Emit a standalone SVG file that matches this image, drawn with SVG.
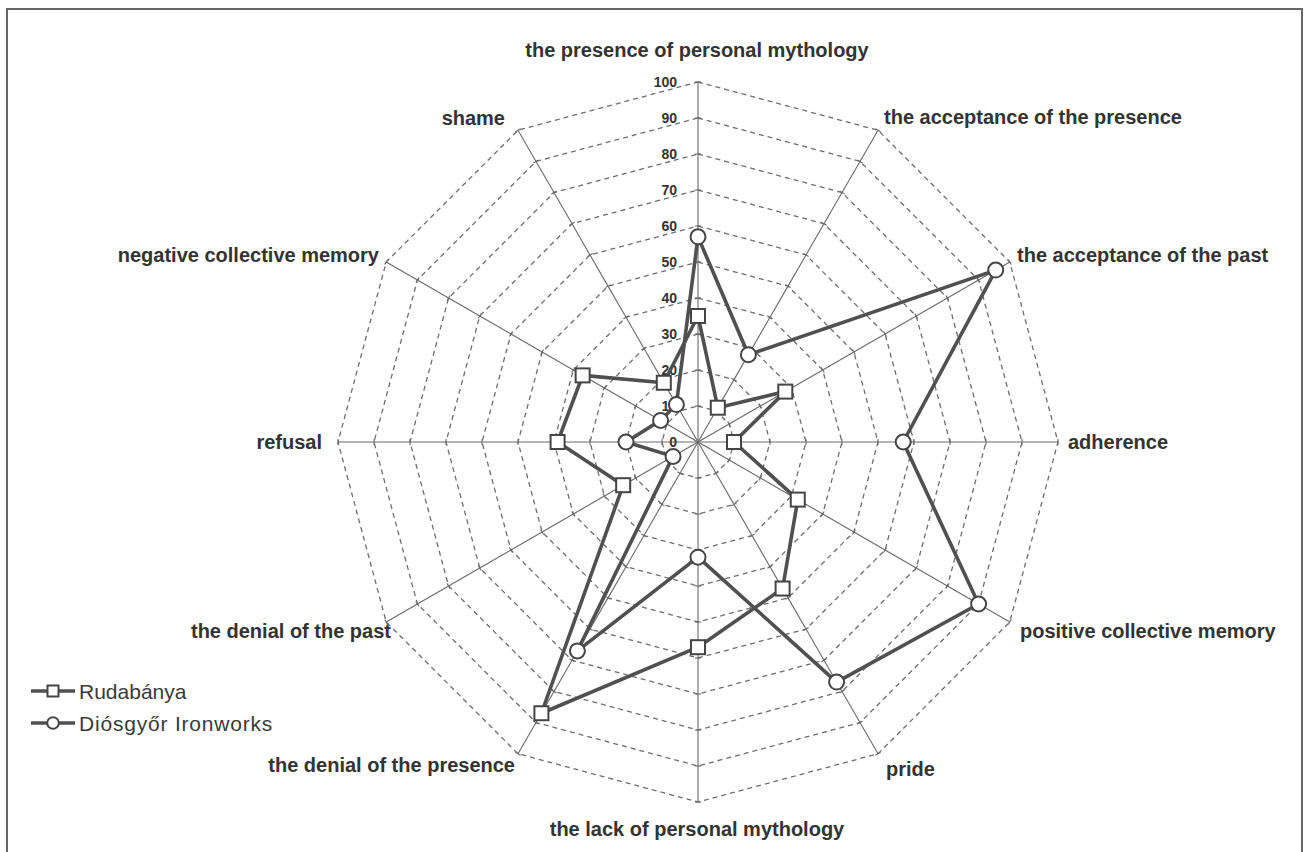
<svg xmlns="http://www.w3.org/2000/svg" xmlns:xlink="http://www.w3.org/1999/xlink" width="1307" height="852" viewBox="0 0 1307 852">
<style>
.ring{fill:none;stroke:#6e6e6e;stroke-width:1.3;stroke-dasharray:5 4}
.axis{fill:none;stroke:#6a6a6a;stroke-width:1.1}
.series{fill:none;stroke:#505050;stroke-width:3.6;stroke-linejoin:round}
.lbl{font-family:"Liberation Sans",Arial,sans-serif;font-weight:bold;font-size:20px;fill:#333}
.tick{font-family:"Liberation Sans",Arial,sans-serif;font-weight:bold;font-size:14px;fill:#333;text-anchor:end}
.leg{font-family:"Liberation Sans",Arial,sans-serif;font-size:21px;fill:#3a3a3a}
</style>
<defs>
<marker id="tk" markerUnits="userSpaceOnUse" markerWidth="10" markerHeight="10" viewBox="-5 -5 10 10" refX="0" refY="0" orient="auto">
<path d="M0,-3V3" stroke="#6a6a6a" stroke-width="1.1"/>
</marker>
<marker id="sq" markerUnits="userSpaceOnUse" markerWidth="18" markerHeight="18" viewBox="-9 -9 18 18" refX="0" refY="0">
<rect x="-7" y="-7" width="14" height="14" fill="#fff" stroke="#454545" stroke-width="2"/>
</marker>
<marker id="ci" markerUnits="userSpaceOnUse" markerWidth="20" markerHeight="20" viewBox="-10 -10 20 20" refX="0" refY="0">
<circle r="7.5" fill="#fff" stroke="#454545" stroke-width="2"/>
</marker>
<polyline id="ax" class="axis" points="0,0 0,-36 0,-72 0,-108 0,-144 0,-180 0,-216 0,-252 0,-288 0,-324 0,-360" marker-mid="url(#tk)" marker-end="url(#tk)"/>
</defs>
<rect width="1307" height="852" fill="#fff"/>
<path d="M7,852V9H1302V852" fill="none" stroke="#666" stroke-width="2"/>
<g id="grid">
<polygon class="ring" points="698,406 716,410.82 729.18,424 734,442 729.18,460 716,473.18 698,478 680,473.18 666.82,460 662,442 666.82,424 680,410.82"/>
<polygon class="ring" points="698,370 734,379.65 760.35,406 770,442 760.35,478 734,504.35 698,514 662,504.35 635.65,478 626,442 635.65,406 662,379.65"/>
<polygon class="ring" points="698,334 752,348.47 791.53,388 806,442 791.53,496 752,535.53 698,550 644,535.53 604.47,496 590,442 604.47,388 644,348.47"/>
<polygon class="ring" points="698,298 770,317.29 822.71,370 842,442 822.71,514 770,566.71 698,586 626,566.71 573.29,514 554,442 573.29,370 626,317.29"/>
<polygon class="ring" points="698,262 788,286.12 853.88,352 878,442 853.88,532 788,597.88 698,622 608,597.88 542.12,532 518,442 542.12,352 608,286.12"/>
<polygon class="ring" points="698,226 806,254.94 885.06,334 914,442 885.06,550 806,629.06 698,658 590,629.06 510.94,550 482,442 510.94,334 590,254.94"/>
<polygon class="ring" points="698,190 824,223.76 916.24,316 950,442 916.24,568 824,660.24 698,694 572,660.24 479.76,568 446,442 479.76,316 572,223.76"/>
<polygon class="ring" points="698,154 842,192.58 947.42,298 986,442 947.42,586 842,691.42 698,730 554,691.42 448.58,586 410,442 448.58,298 554,192.58"/>
<polygon class="ring" points="698,118 860,161.41 978.59,280 1022,442 978.59,604 860,722.59 698,766 536,722.59 417.41,604 374,442 417.41,280 536,161.41"/>
<polygon class="ring" points="698,82 878,130.23 1009.77,262 1058,442 1009.77,622 878,753.77 698,802 518,753.77 386.23,622 338,442 386.23,262 518,130.23"/>
</g>
<g id="axes">
<use xlink:href="#ax" transform="translate(698 442)"/>
<use xlink:href="#ax" transform="translate(698 442) rotate(30)"/>
<use xlink:href="#ax" transform="translate(698 442) rotate(60)"/>
<use xlink:href="#ax" transform="translate(698 442) rotate(90)"/>
<use xlink:href="#ax" transform="translate(698 442) rotate(120)"/>
<use xlink:href="#ax" transform="translate(698 442) rotate(150)"/>
<use xlink:href="#ax" transform="translate(698 442) rotate(180)"/>
<use xlink:href="#ax" transform="translate(698 442) rotate(210)"/>
<use xlink:href="#ax" transform="translate(698 442) rotate(240)"/>
<use xlink:href="#ax" transform="translate(698 442) rotate(270)"/>
<use xlink:href="#ax" transform="translate(698 442) rotate(300)"/>
<use xlink:href="#ax" transform="translate(698 442) rotate(330)"/>
</g>
<g id="scale">
<text class="tick" x="677" y="447">0</text>
<text class="tick" x="677" y="411">10</text>
<text class="tick" x="677" y="375">20</text>
<text class="tick" x="677" y="339">30</text>
<text class="tick" x="677" y="303">40</text>
<text class="tick" x="677" y="267">50</text>
<text class="tick" x="677" y="231">60</text>
<text class="tick" x="677" y="195">70</text>
<text class="tick" x="677" y="159">80</text>
<text class="tick" x="677" y="123">90</text>
<text class="tick" x="677" y="87">100</text>
</g>
<g id="series-rudabanya">
<polyline class="series" points="698,316 717.8,407.71 785.29,391.6 734,442 797.77,499.6 782.6,588.53 698,647.2 541.4,713.24 623.18,485.2 557.6,442 582.65,375.4 663.8,382.76 698,316" marker-start="url(#sq)" marker-mid="url(#sq)"/>
</g>
<g id="series-diosgyor">
<polyline class="series" points="698,236.8 748.4,354.71 995.73,270.1 903.2,442 978.59,604 836.6,682.06 698,557.2 577.4,650.88 673.06,456.4 626,442 660.59,420.4 676.4,404.59 698,236.8" marker-start="url(#ci)" marker-mid="url(#ci)"/>
</g>
<g id="labels">
<text class="lbl" x="697" y="57" text-anchor="middle">the presence of personal mythology</text>
<text class="lbl" x="884" y="124">the acceptance of the presence</text>
<text class="lbl" x="1017" y="262">the acceptance of the past</text>
<text class="lbl" x="1068" y="449">adherence</text>
<text class="lbl" x="1020" y="638">positive collective memory</text>
<text class="lbl" x="886" y="776">pride</text>
<text class="lbl" x="697" y="836" text-anchor="middle">the lack of personal mythology</text>
<text class="lbl" x="515" y="772" text-anchor="end">the denial of the presence</text>
<text class="lbl" x="391" y="638" text-anchor="end">the denial of the past</text>
<text class="lbl" x="322" y="449" text-anchor="end">refusal</text>
<text class="lbl" x="379" y="262" text-anchor="end">negative collective memory</text>
<text class="lbl" x="505" y="125" text-anchor="end">shame</text>
</g>
<g id="legend">
<line x1="31" y1="691" x2="75" y2="691" stroke="#505050" stroke-width="3.5"/>
<rect x="47.5" y="685.5" width="11" height="11" fill="#fff" stroke="#454545" stroke-width="2"/>
<text class="leg" x="79" y="699">Rudabánya</text>
<line x1="31" y1="723" x2="75" y2="723" stroke="#505050" stroke-width="3.5"/>
<circle cx="53" cy="723" r="5.8" fill="#fff" stroke="#454545" stroke-width="2"/>
<text class="leg" x="79" y="731" letter-spacing="0.8">Diósgyőr Ironworks</text>
</g>
</svg>
